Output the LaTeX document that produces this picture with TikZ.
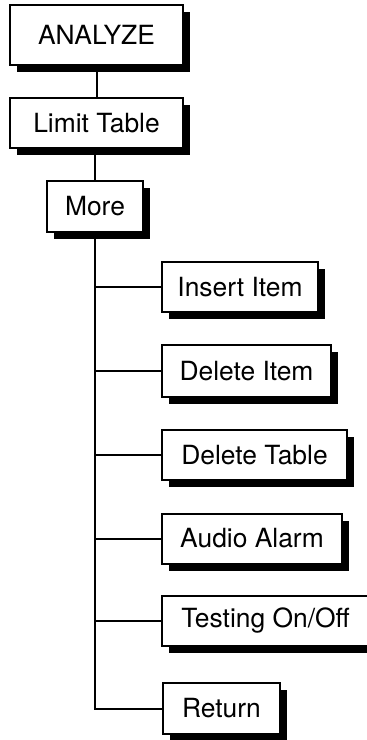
\documentclass[tikz,border=0pt]{standalone}
\usepackage{fontspec}
\setmainfont{TeX Gyre Heros}
\usetikzlibrary{shadows}

\begin{document}
\begin{tikzpicture}[
  x=0.5pt, y=-0.5pt,
  font=\fontsize{13.2}{16}\selectfont,
  blk/.style={draw, line width=1pt, fill=white, inner sep=0pt, minimum height=25pt,
              drop shadow={shadow xshift=3.5pt, shadow yshift=-3.5pt, opacity=1, fill=black}},
  ln/.style={line width=1pt}
]
\useasboundingbox (0,0) rectangle (366,740);

% Hauptkette
\node[blk, minimum width=86.5pt, minimum height=30pt] (ana) at (96.5,35)  {ANALYZE};
\node[blk, minimum width=86.5pt] (lim) at (96.5,123) {Limit Table};
\node[blk, minimum width=48pt, minimum height=25.5pt] (more) at (95,206.5) {More};
\draw[ln] (ana.south) -- (lim.north);
\draw[ln] (lim.south -| more.north) -- (more.north);

% Untermenue
\node[blk, minimum width=78pt]   (ins)  at (240,287)   {Insert Item};
\node[blk, minimum width=84.5pt, minimum height=26pt] (deli) at (246.5,371) {Delete Item};
\node[blk, minimum width=92.5pt] (delt) at (254.5,455) {Delete Table};
\node[blk, minimum width=90pt]   (aud)  at (252,538.5) {Audio Alarm};
\node[blk, minimum width=103.5pt] (test) at (265.5,621) {Testing On/Off};
\node[blk, minimum width=58.5pt, minimum height=25.5pt] (ret) at (221.5,708.5) {Return};

\draw[ln] (more.south) |- (ret.west);
\foreach \n in {ins,deli,delt,aud,test}
  \draw[ln] (more.south |- \n.west) -- (\n.west);

\end{tikzpicture}
\end{document}
